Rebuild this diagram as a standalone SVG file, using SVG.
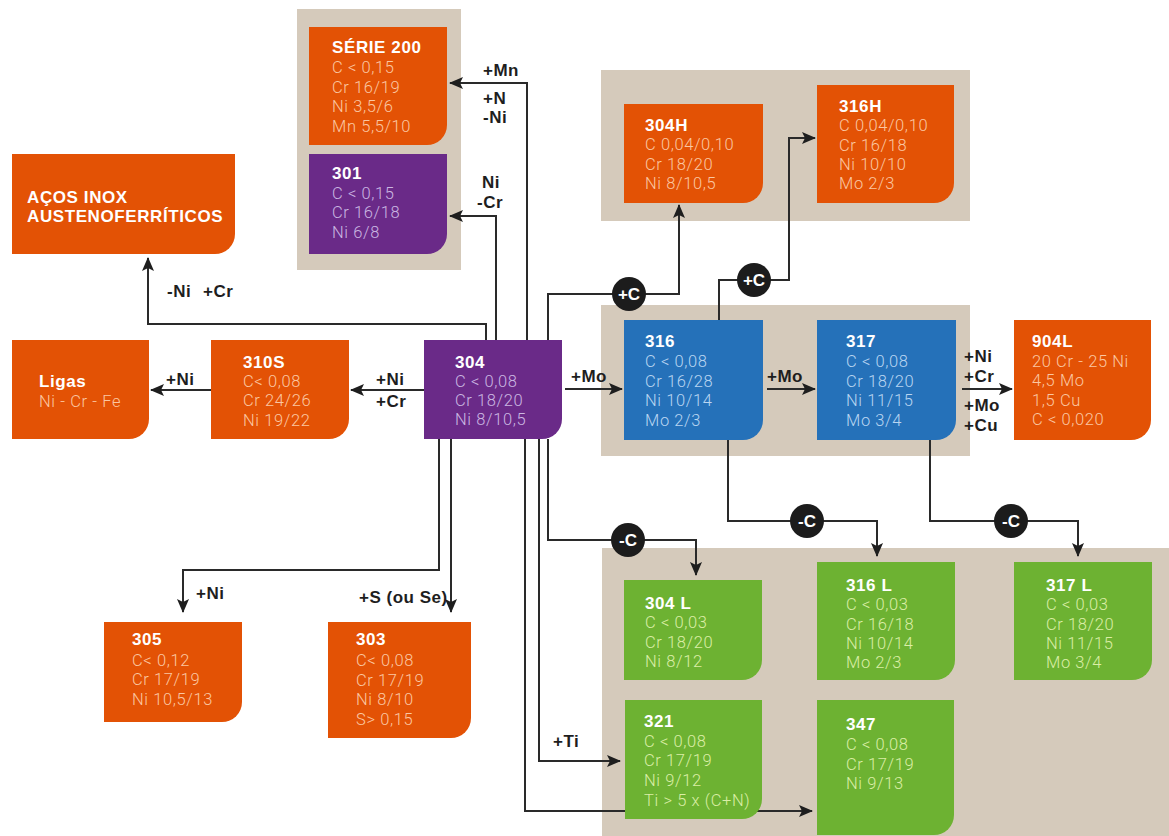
<svg xmlns="http://www.w3.org/2000/svg" width="1169" height="836" viewBox="0 0 1169 836">
<defs>
<style>
.panel{fill:#d5cabb}
.or{fill:#e35205}
.pu{fill:#6a2a88}
.bl{fill:#2571b9}
.gr{fill:#6db232}
.t{font-family:"Liberation Sans",Arial,sans-serif;font-weight:bold;font-size:17px;letter-spacing:0.6px;fill:#ffffff}
.b{font-family:Roboto,"Liberation Sans",Arial,sans-serif;font-weight:300;font-size:16.5px;letter-spacing:0.6px}
.bo{fill:#fbc7a2}
.bp{fill:#cbb7e2}
.bb{fill:#b9d5f1}
.bg{fill:#dbeea6}
.lab{font-family:"Liberation Sans",Arial,sans-serif;font-weight:bold;font-size:17px;letter-spacing:0.5px;fill:#1e1e1e}
.ln{fill:none;stroke:#2a2a2a;stroke-width:2}
.circ{fill:#1c1c1c}
.ct{font-family:"Liberation Sans",Arial,sans-serif;font-weight:bold;font-size:17px;fill:#ffffff;text-anchor:middle}
</style>
<marker id="ah" markerUnits="userSpaceOnUse" markerWidth="14" markerHeight="12" viewBox="0 0 14 12" refX="13" refY="6" orient="auto">
<path d="M0,0 L14,6 L0,12 L3,6 Z" fill="#1e1e1e"/>
</marker>
</defs>
<rect width="1169" height="836" fill="#ffffff"/>
<g id="panels">
<rect class="panel" x="297" y="9" width="164" height="261"/>
<rect class="panel" x="601" y="70" width="369" height="151"/>
<rect class="panel" x="601" y="305" width="369" height="151"/>
<rect class="panel" x="602" y="548" width="567" height="288"/>
</g>
<g id="connectors">
<path class="ln" d="M527,340 V83 H450" marker-end="url(#ah)"/>
<path class="ln" d="M496,340 V216 H450" marker-end="url(#ah)"/>
<path class="ln" d="M486,340 V324 H148 V258" marker-end="url(#ah)"/>
<path class="ln" d="M548,340 V294 H679 V205" marker-end="url(#ah)"/>
<path class="ln" d="M719,320 V280 H789 V138 H815" marker-end="url(#ah)"/>
<path class="ln" d="M424,390 H351" stroke-width="3" marker-end="url(#ah)"/>
<path class="ln" d="M211,390 H151" stroke-width="3" marker-end="url(#ah)"/>
<path class="ln" d="M565,389 H622" stroke-width="3" marker-end="url(#ah)"/>
<path class="ln" d="M767,389 H815" stroke-width="3" marker-end="url(#ah)"/>
<path class="ln" d="M962,389 H1012" stroke-width="3" marker-end="url(#ah)"/>
<path class="ln" d="M728,440 V521 H877 V556" marker-end="url(#ah)"/>
<path class="ln" d="M930,440 V521 H1078 V556" marker-end="url(#ah)"/>
<path class="ln" d="M548,439 V540 H696 V575" marker-end="url(#ah)"/>
<path class="ln" d="M439,439 V570 H183 V612" marker-end="url(#ah)"/>
<path class="ln" d="M451,439 V612" stroke-width="3" marker-end="url(#ah)"/>
<path class="ln" d="M539,439 V761 H620" marker-end="url(#ah)"/>
<path class="ln" d="M525,439 V811 H812" stroke-width="3" marker-end="url(#ah)"/>
<circle class="circ" cx="629" cy="294" r="17"/>
<text class="ct" x="629" y="300">+C</text>
<circle class="circ" cx="754" cy="280" r="17"/>
<text class="ct" x="754" y="286">+C</text>
<circle class="circ" cx="628" cy="540" r="17"/>
<text class="ct" x="628" y="546">-C</text>
<circle class="circ" cx="807" cy="521" r="17"/>
<text class="ct" x="807" y="527">-C</text>
<circle class="circ" cx="1011" cy="521" r="17"/>
<text class="ct" x="1011" y="527">-C</text>
<text class="lab" x="483" y="76">+Mn</text>
<text class="lab" x="483" y="104">+N</text>
<text class="lab" x="483" y="123">-Ni</text>
<text class="lab" x="482" y="188">Ni</text>
<text class="lab" x="477" y="208">-Cr</text>
<text class="lab" x="167" y="297">-Ni</text>
<text class="lab" x="203" y="297">+Cr</text>
<text class="lab" x="166" y="385">+Ni</text>
<text class="lab" x="376" y="385">+Ni</text>
<text class="lab" x="376" y="407">+Cr</text>
<text class="lab" x="571" y="382">+Mo</text>
<text class="lab" x="767" y="382">+Mo</text>
<text class="lab" x="964" y="362">+Ni</text>
<text class="lab" x="964" y="382">+Cr</text>
<text class="lab" x="964" y="411">+Mo</text>
<text class="lab" x="964" y="431">+Cu</text>
<text class="lab" x="196" y="599">+Ni</text>
<text class="lab" x="359" y="603">+S (ou Se)</text>
<text class="lab" x="553" y="747">+Ti</text>
</g>
<g id="serie200">
<path class="or" d="M309,27 H447 V125 A20,20 0 0 1 427,145 H309 Z"/>
<text class="t" x="332" y="53">SÉRIE 200</text>
<text class="b bo" x="332" y="73">C &lt; 0,15</text>
<text class="b bo" x="332" y="93">Cr 16/19</text>
<text class="b bo" x="332" y="112">Ni 3,5/6</text>
<text class="b bo" x="332" y="132">Mn 5,5/10</text>
</g>
<g id="n301">
<path class="pu" d="M309,154 H447 V234 A20,20 0 0 1 427,254 H309 Z"/>
<text class="t" x="332" y="179">301</text>
<text class="b bp" x="332" y="199">C &lt; 0,15</text>
<text class="b bp" x="332" y="218">Cr 16/18</text>
<text class="b bp" x="332" y="238">Ni 6/8</text>
</g>
<g id="acos">
<path class="or" d="M12,154 H235 V234 A20,20 0 0 1 215,254 H12 Z"/>
<text class="t" x="27" y="203" font-size="17" letter-spacing="0">AÇOS INOX</text>
<text class="t" x="27" y="222" font-size="17" letter-spacing="0">AUSTENOFERRÍTICOS</text>
</g>
<g id="n304">
<path class="pu" d="M424,340 H562 V419 A20,20 0 0 1 542,439 H424 Z"/>
<text class="t" x="455" y="368">304</text>
<text class="b bp" x="455" y="387">C &lt; 0,08</text>
<text class="b bp" x="455" y="406">Cr 18/20</text>
<text class="b bp" x="455" y="425">Ni 8/10,5</text>
</g>
<g id="n310s">
<path class="or" d="M211,340 H349 V419 A20,20 0 0 1 329,439 H211 Z"/>
<text class="t" x="243" y="368">310S</text>
<text class="b bo" x="243" y="387">C&lt; 0,08</text>
<text class="b bo" x="243" y="406">Cr 24/26</text>
<text class="b bo" x="243" y="426">Ni 19/22</text>
</g>
<g id="ligas">
<path class="or" d="M12,340 H149 V419 A20,20 0 0 1 129,439 H12 Z"/>
<text class="t" x="39" y="387">Ligas</text>
<text class="b bo" x="39" y="407">Ni - Cr - Fe</text>
</g>
<g id="n304h">
<path class="or" d="M624,104 H763 V183 A20,20 0 0 1 743,203 H624 Z"/>
<text class="t" x="645" y="131">304H</text>
<text class="b bo" x="645" y="150">C 0,04/0,10</text>
<text class="b bo" x="645" y="170">Cr 18/20</text>
<text class="b bo" x="645" y="189">Ni 8/10,5</text>
</g>
<g id="n316h">
<path class="or" d="M817,85 H954 V183 A20,20 0 0 1 934,203 H817 Z"/>
<text class="t" x="839" y="112">316H</text>
<text class="b bo" x="839" y="131">C 0,04/0,10</text>
<text class="b bo" x="839" y="151">Cr 16/18</text>
<text class="b bo" x="839" y="170">Ni 10/10</text>
<text class="b bo" x="839" y="189">Mo 2/3</text>
</g>
<g id="n316">
<path class="bl" d="M624,320 H763 V420 A20,20 0 0 1 743,440 H624 Z"/>
<text class="t" x="645" y="347">316</text>
<text class="b bb" x="645" y="367">C &lt; 0,08</text>
<text class="b bb" x="645" y="387">Cr 16/28</text>
<text class="b bb" x="645" y="406">Ni 10/14</text>
<text class="b bb" x="645" y="426">Mo 2/3</text>
</g>
<g id="n317">
<path class="bl" d="M817,320 H956 V420 A20,20 0 0 1 936,440 H817 Z"/>
<text class="t" x="846" y="347">317</text>
<text class="b bb" x="846" y="367">C &lt; 0,08</text>
<text class="b bb" x="846" y="387">Cr 18/20</text>
<text class="b bb" x="846" y="406">Ni 11/15</text>
<text class="b bb" x="846" y="426">Mo 3/4</text>
</g>
<g id="n904l">
<path class="or" d="M1014,320 H1151 V420 A20,20 0 0 1 1131,440 H1014 Z"/>
<text class="t" x="1032" y="347">904L</text>
<text class="b bo" x="1032" y="367">20 Cr - 25 Ni</text>
<text class="b bo" x="1032" y="386">4,5 Mo</text>
<text class="b bo" x="1032" y="406">1,5 Cu</text>
<text class="b bo" x="1032" y="425">C &lt; 0,020</text>
</g>
<g id="n305">
<path class="or" d="M104,622 H242 V702 A20,20 0 0 1 222,722 H104 Z"/>
<text class="t" x="132" y="645">305</text>
<text class="b bo" x="132" y="666">C&lt; 0,12</text>
<text class="b bo" x="132" y="685">Cr 17/19</text>
<text class="b bo" x="132" y="705">Ni 10,5/13</text>
</g>
<g id="n303">
<path class="or" d="M328,622 H471 V718 A20,20 0 0 1 451,738 H328 Z"/>
<text class="t" x="356" y="645">303</text>
<text class="b bo" x="356" y="666">C&lt; 0,08</text>
<text class="b bo" x="356" y="686">Cr 17/19</text>
<text class="b bo" x="356" y="705">Ni 8/10</text>
<text class="b bo" x="356" y="725">S&gt; 0,15</text>
</g>
<g id="n304l">
<path class="gr" d="M624,580 H762 V660 A20,20 0 0 1 742,680 H624 Z"/>
<text class="t" x="645" y="609">304 L</text>
<text class="b bg" x="645" y="628">C &lt; 0,03</text>
<text class="b bg" x="645" y="648">Cr 18/20</text>
<text class="b bg" x="645" y="667">Ni 8/12</text>
</g>
<g id="n316l">
<path class="gr" d="M817,562 H955 V660 A20,20 0 0 1 935,680 H817 Z"/>
<text class="t" x="846" y="591">316 L</text>
<text class="b bg" x="846" y="610">C &lt; 0,03</text>
<text class="b bg" x="846" y="630">Cr 16/18</text>
<text class="b bg" x="846" y="649">Ni 10/14</text>
<text class="b bg" x="846" y="668">Mo 2/3</text>
</g>
<g id="n317l">
<path class="gr" d="M1014,562 H1152 V660 A20,20 0 0 1 1132,680 H1014 Z"/>
<text class="t" x="1046" y="591">317 L</text>
<text class="b bg" x="1046" y="610">C &lt; 0,03</text>
<text class="b bg" x="1046" y="630">Cr 18/20</text>
<text class="b bg" x="1046" y="649">Ni 11/15</text>
<text class="b bg" x="1046" y="668">Mo 3/4</text>
</g>
<g id="n321">
<path class="gr" d="M625,700 H762 V799 A20,20 0 0 1 742,819 H625 Z"/>
<text class="t" x="644" y="727">321</text>
<text class="b bg" x="644" y="747">C &lt; 0,08</text>
<text class="b bg" x="644" y="766">Cr 17/19</text>
<text class="b bg" x="644" y="786">Ni 9/12</text>
<text class="b bg" x="644" y="806">Ti &gt; 5 x (C+N)</text>
</g>
<g id="n347">
<path class="gr" d="M817,700 H954 V815 A20,20 0 0 1 934,835 H817 Z"/>
<text class="t" x="846" y="730">347</text>
<text class="b bg" x="846" y="750">C &lt; 0,08</text>
<text class="b bg" x="846" y="770">Cr 17/19</text>
<text class="b bg" x="846" y="789">Ni 9/13</text>
</g>
</svg>
